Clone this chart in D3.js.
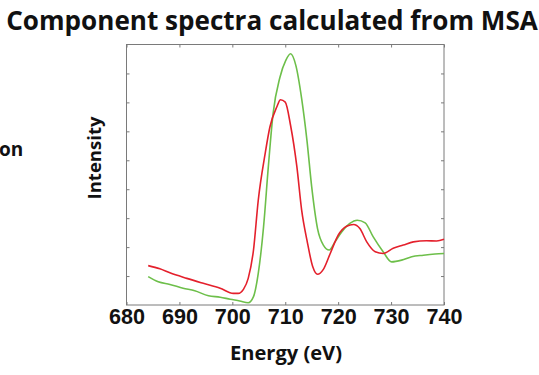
<!DOCTYPE html>
<html>
<head>
<meta charset="utf-8">
<script src="https://cdn.jsdelivr.net/npm/d3@7"></script>
<style>
  body { margin: 0; background: #fff; }
  svg { display: block; font-family: "Open Sans", "DejaVu Sans", sans-serif; }
  .tick text { font-weight: 700; fill: #111; }
</style>
</head>
<body>
<svg id="chart"></svg>
<script>
//Energy axis (eV) and intensity values
let redEnergy = [684.1, 686.3, 688.2, 691.4, 694.5, 697.7, 700.2, 701.1, 702.1, 703.0, 704.0, 704.9, 706.2, 707.1, 708.4, 709.1, 710.0, 711.0, 712.2, 713.1, 714.1, 715.2, 716.1, 717.2, 718.5, 720.0, 721.6, 722.9, 724.1, 725.4, 727.0, 728.5, 730.4, 732.3, 734.2, 736.7, 738.6, 740.0];
let redIntensity = [1.36, 1.25, 1.11, 0.92, 0.75, 0.58, 0.40, 0.40, 0.54, 0.92, 1.90, 3.62, 5.23, 6.15, 6.84, 7.09, 7.01, 6.21, 4.77, 3.28, 2.24, 1.32, 1.06, 1.23, 1.78, 2.41, 2.72, 2.78, 2.64, 2.18, 1.84, 1.78, 1.96, 2.07, 2.18, 2.22, 2.21, 2.27];

let greenEnergy = [684.1, 686.0, 688.2, 690.7, 692.9, 695.5, 697.7, 699.6, 701.4, 703.0, 704.0, 704.9, 705.9, 706.8, 707.7, 709.0, 710.1, 711.0, 712.0, 713.1, 714.1, 715.0, 716.1, 717.2, 718.3, 719.4, 720.7, 722.2, 723.6, 725.1, 726.6, 728.5, 730.1, 732.0, 733.9, 736.1, 738.3, 740.0];
let greenIntensity = [0.98, 0.80, 0.71, 0.58, 0.49, 0.32, 0.27, 0.20, 0.14, 0.08, 0.29, 1.09, 2.70, 4.77, 6.61, 7.87, 8.45, 8.68, 8.28, 7.13, 5.69, 4.08, 2.64, 2.07, 1.90, 2.18, 2.53, 2.82, 2.93, 2.84, 2.36, 1.84, 1.49, 1.55, 1.67, 1.72, 1.76, 1.78];

let xTicks = [680, 690, 700, 710, 720, 730, 740];
let yTicks = [1, 2, 3, 4, 5, 6, 7, 8];

//Canvas Dimension
let canvasDimension = { width: 539, height: 375 };

//Plot box
let box = { left: 126.5, right: 444, top: 44.5, bottom: 305 };

let svg = d3.select('#chart')
            .attr('width', canvasDimension.width)
            .attr('height', canvasDimension.height);

//Scales
let xScale = d3.scaleLinear().domain([680, 740]).range([box.left, box.right]);
let yScale = d3.scaleLinear().domain([0, 9]).range([box.bottom, box.top]);

//Frame
svg.append('rect')
   .attr('x', box.left)
   .attr('y', box.top)
   .attr('width', box.right - box.left)
   .attr('height', box.bottom - box.top)
   .attr('fill', 'none')
   .attr('stroke', '#7a7a7a')
   .attr('stroke-width', 1);

function styleAxis(g){
    g.select('.domain').remove();
    g.selectAll('.tick line').attr('stroke', '#7a7a7a');
}

//scale a text's font so it takes the width it has in the picture
function fitWidth(sel, size, target){
    sel.style('font-size', size + 'px');
    let w = sel.node().getComputedTextLength();
    sel.style('font-size', (size * target / w) + 'px');
}

//Bottom axis with labels
let xLabels = svg.append('g')
   .attr('transform', 'translate(0,' + box.bottom + ')')
   .call(d3.axisBottom(xScale).tickValues(xTicks).tickFormat(d3.format('d'))
          .tickSizeInner(-3).tickSizeOuter(0).tickPadding(5))
   .call(styleAxis)
   .selectAll('text');
xLabels.each(function(){ fitWidth(d3.select(this), 20, 36); })
       .attr('dy', null)
       .attr('y', 18.5);

//Top axis, ticks only
svg.append('g')
   .attr('transform', 'translate(0,' + box.top + ')')
   .call(d3.axisTop(xScale).tickValues(xTicks).tickFormat('')
          .tickSizeInner(-3).tickSizeOuter(0))
   .call(styleAxis);

//Left and right axes, ticks only
svg.append('g')
   .attr('transform', 'translate(' + box.left + ',0)')
   .call(d3.axisLeft(yScale).tickValues(yTicks).tickFormat('')
          .tickSizeInner(-3).tickSizeOuter(0))
   .call(styleAxis);

svg.append('g')
   .attr('transform', 'translate(' + box.right + ',0)')
   .call(d3.axisRight(yScale).tickValues(yTicks).tickFormat('')
          .tickSizeInner(-3).tickSizeOuter(0))
   .call(styleAxis);

//Spectra
let line = d3.line()
             .x((d) => xScale(d[0]))
             .y((d) => yScale(d[1]))
             .curve(d3.curveMonotoneX);

svg.append('path')
   .datum(greenEnergy.map((e, i) => [e, greenIntensity[i]]))
   .attr('d', line)
   .attr('fill', 'none')
   .attr('stroke', '#6dbf4a')
   .attr('stroke-width', 1.6);

svg.append('path')
   .datum(redEnergy.map((e, i) => [e, redIntensity[i]]))
   .attr('d', line)
   .attr('fill', 'none')
   .attr('stroke', '#e4202c')
   .attr('stroke-width', 1.6);

//Texts
let title = svg.append('text')
   .attr('x', 272)
   .attr('y', 30)
   .attr('text-anchor', 'middle')
   .style('font-weight', 700)
   .attr('fill', '#111')
   .text('Component spectra calculated from MSA');
fitWidth(title, 24, 532);

let xTitle = svg.append('text')
   .attr('x', 286)
   .attr('y', 360)
   .attr('text-anchor', 'middle')
   .style('font-weight', 700)
   .attr('fill', '#111')
   .text('Energy (eV)');
fitWidth(xTitle, 17, 112);

let yTitle = svg.append('text')
   .attr('transform', 'translate(101,158) rotate(-90)')
   .attr('text-anchor', 'middle')
   .style('font-weight', 700)
   .attr('fill', '#111')
   .text('Intensity');
fitWidth(yTitle, 17, 83);

svg.append('text')
   .attr('x', -1)
   .attr('y', 156)
   .style('font-size', '19px')
   .style('font-weight', 700)
   .attr('fill', '#111')
   .text('on');
</script>
</body>
</html>
